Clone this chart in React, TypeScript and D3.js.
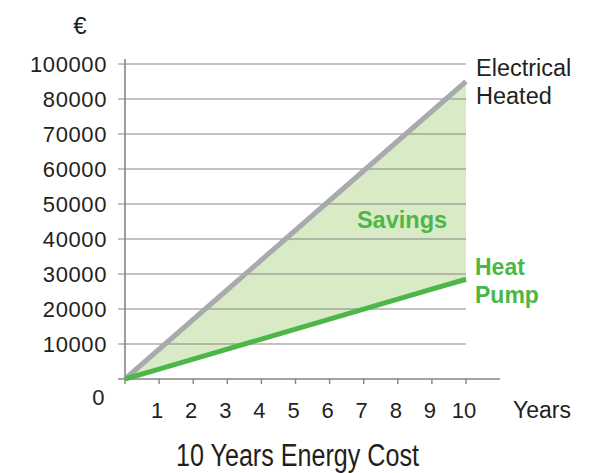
import * as d3 from "d3";
import React from "react";

// chart values
const years = [0, 1, 2, 3, 4, 5, 6, 7, 8, 9, 10];
const electrical = [0, 8500, 17000, 25500, 34000, 42500, 51000, 59500, 68000, 76500, 85000];
const heatPump = [0, 2850, 5700, 8550, 11400, 14250, 17100, 19950, 22800, 25650, 28500];
const yTicks = [10000, 20000, 30000, 40000, 50000, 60000, 70000, 80000, 90000];
// the top gridline is labelled 100000 in the original
const yTickLabels = ["10000", "20000", "30000", "40000", "50000", "60000", "70000", "80000", "100000"];
const xTicks = [1, 2, 3, 4, 5, 6, 7, 8, 9, 10];

const W = 604;
const H = 473;
const GREEN = "#4cb748";
const GREY_LINE = "#a8aaad";
const AXIS = "#858585";
const TEXT = "#231f20";
const FONT = "'Liberation Sans', Arial, Helvetica, sans-serif";

const App = () => {
  const x = d3.scaleLinear().domain([0, 10]).range([125, 466]);
  const y = d3.scaleLinear().domain([0, 90000]).range([379, 64]);

  const pts = years.map((yr, i) => ({ yr, e: electrical[i], h: heatPump[i] }));

  const area = d3
    .area<{ yr: number; e: number; h: number }>()
    .x((d) => x(d.yr))
    .y0((d) => y(d.h))
    .y1((d) => y(d.e));

  const line = (key: "e" | "h") =>
    d3
      .line<{ yr: number; e: number; h: number }>()
      .x((d) => x(d.yr))
      .y((d) => y(d[key]))(pts) || "";

  return (
    <svg
      width={W}
      height={H}
      style={{ position: "absolute", left: 0, top: 0, background: "#fff" }}
      fontFamily={FONT}
    >
      {/* savings area */}
      <path d={area(pts) || ""} fill="#d8ebc6" />

      {/* gridlines + left ticks */}
      <g>
        {yTicks.map((t) => (
          <line key={t} x1={118} x2={x(10)} y1={y(t)} y2={y(t)} stroke={AXIS} strokeWidth={1} />
        ))}
      </g>

      {/* axes */}
      <line x1={125} x2={125} y1={59} y2={y(0)} stroke={AXIS} strokeWidth={1.6} />
      <line x1={118} x2={500} y1={y(0)} y2={y(0)} stroke={AXIS} strokeWidth={1.6} />
      {[0, ...xTicks].map((t) => (
        <line key={t} x1={x(t)} x2={x(t)} y1={y(0)} y2={y(0) + 5} stroke={AXIS} strokeWidth={1.4} />
      ))}

      {/* lines */}
      <path d={line("e")} fill="none" stroke={GREY_LINE} strokeWidth={5} />
      <path d={line("h")} fill="none" stroke={GREEN} strokeWidth={5} />

      {/* y labels */}
      <g fontSize={22} fill={TEXT} textAnchor="end" letterSpacing={0.6}>
        {yTicks.map((t, i) => (
          <text key={t} x={107} y={y(t)} dy="0.36em">
            {yTickLabels[i]}
          </text>
        ))}
        <text x={105} y={y(0) + 18} dy="0.36em">0</text>
      </g>
      <text x={80} y={25} dy="0.36em" fontSize={24} fill={TEXT} textAnchor="middle">€</text>

      {/* x labels */}
      <g fontSize={22} fill={TEXT} textAnchor="middle">
        {xTicks.map((t) => (
          <text key={t} x={x(t) - 2} y={410} dy="0.36em">
            {t}
          </text>
        ))}
      </g>
      <text x={513} y={410} dy="0.36em" fontSize={23} fill={TEXT}>Years</text>

      {/* series labels */}
      <g fontSize={23.5} fill={TEXT}>
        <text x={476} y={68} dy="0.36em">Electrical</text>
        <text x={476} y={96} dy="0.36em">Heated</text>
      </g>
      <g fontSize={23} fill={GREEN} fontWeight="bold">
        <text x={475} y={267} dy="0.36em">Heat</text>
        <text x={475} y={295} dy="0.36em">Pump</text>
        <text x={402} y={220} dy="0.36em" textAnchor="middle" fontSize={23.5}>Savings</text>
      </g>

      {/* title */}
      <text
        x={176}
        y={466}
        fontSize={31}
        fill={TEXT}
        fontFamily="'Liberation Sans Narrow', 'Liberation Sans', Arial, sans-serif"
        textLength={243}
        lengthAdjust="spacingAndGlyphs"
      >
        10 Years Energy Cost
      </text>
    </svg>
  );
};

export default App;
